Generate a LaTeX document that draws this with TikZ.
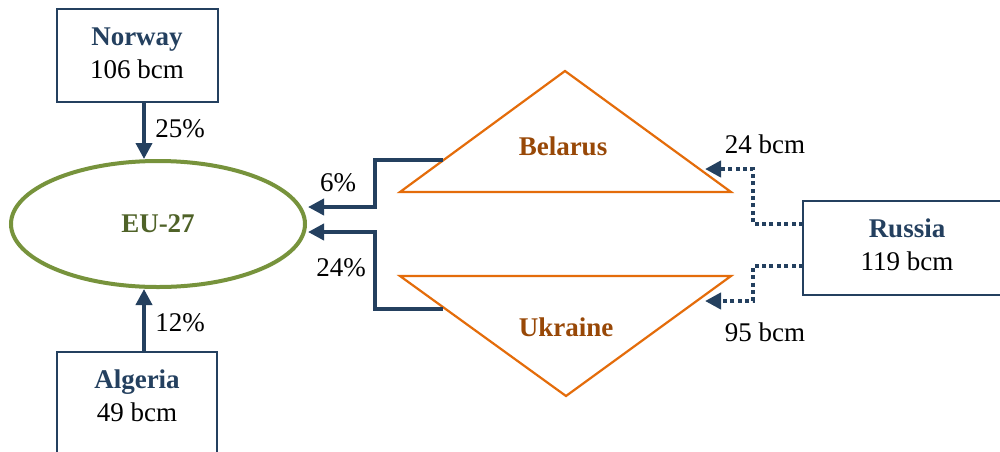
\documentclass[tikz,border=0pt]{standalone}
\usepackage{fontspec}
\setmainfont{Liberation Serif}
\usetikzlibrary{arrows.meta,shapes.geometric}
\definecolor{navy}{HTML}{24405F}
\definecolor{leaf}{HTML}{77933C}
\definecolor{olive}{HTML}{4F6228}
\definecolor{tang}{HTML}{E46C0A}
\definecolor{rust}{HTML}{984807}
\tikzset{
  box/.style={draw=navy, line width=1pt, fill=white, inner sep=0pt},
  lbl/.style={font=\fontsize{13.5}{16.5}\selectfont, text=black, inner sep=0pt},
  boxtext/.style={font=\fontsize{13.5}{16.5}\selectfont, align=center, inner sep=0pt},
  arr/.style={draw=navy, line width=1.9pt, -{Triangle[length=8pt,width=8pt]}},
  dotarr/.style={draw=navy, line width=2.1pt, dash pattern=on 2pt off 1.7pt, -{Triangle[length=8pt,width=8pt]}},
  tri/.style={draw=tang, line width=1.1pt},
  trilabel/.style={font=\fontsize{13.5}{16.5}\selectfont\bfseries, text=rust, inner sep=0pt}
}
\begin{document}
\begin{tikzpicture}[x=0.5pt,y=-0.5pt]
\clip (0,0) rectangle (1000,451);
\fill[white] (0,0) rectangle (1000,451);
% boxes
\node[box, minimum width=80.5pt, minimum height=46.5pt] (norway) at (137,55.5) {};
\node[boxtext] (norwaytext) at (137,53.5) {\textcolor{navy}{\bfseries Norway}\\106 bcm};
\node[box, minimum width=80pt, minimum height=52pt] (algeria) at (137,404) {};
\node[boxtext] (algeriatext) at (137,396) {\textcolor{navy}{\bfseries Algeria}\\49 bcm};
\node[box, minimum width=104pt, minimum height=47pt] (russia) at (907,248) {};
\node[boxtext] (russiatext) at (907,245) {\textcolor{navy}{\bfseries Russia}\\119 bcm};
% EU ellipse
\node[ellipse, draw=leaf, line width=2pt, minimum width=147pt, minimum height=63pt, inner sep=0pt,
      font=\fontsize{13.5}{16.5}\selectfont\bfseries, text=olive] (eu) at (158,224) {EU-27};
% triangles
\coordinate (bA) at (400,192);
\coordinate (bB) at (731,192);
\coordinate (bC) at (565,71);
\draw[tri] (bA) -- (bB) -- (bC) -- cycle;
\node[trilabel] (belarus) at (563,146) {Belarus};
\coordinate (uA) at (400,276);
\coordinate (uB) at (731,276);
\coordinate (uC) at (566,396);
\draw[tri] (uA) -- (uB) -- (uC) -- cycle;
\node[trilabel] (ukraine) at (566,327) {Ukraine};
% connector end points
\coordinate (bout) at (443,160);
\coordinate (uout) at (443,309);
\coordinate (eusix) at (308,207);
\coordinate (eutf) at (308,232);
\coordinate (rone) at (803,224);
\coordinate (rtwo) at (803,266);
\coordinate (bin) at (705,169);
\coordinate (uin) at (705,301);
% solid arrows
\draw[arr] ([xshift=3.5pt]norway.south) -- ([xshift=3.5pt]norway.south |- eu.north);
\draw[arr] ([xshift=3.5pt]algeria.north) -- ([xshift=3.5pt]algeria.north |- eu.south);
\draw[arr] (bout) -- ++(-68,0) |- (eusix);
\draw[arr] (uout) -- ++(-68,0) |- (eutf);
% dotted arrows
\draw[dotarr] (rone) -- ++(-50,0) |- (bin);
\draw[dotarr] (rtwo) -- ++(-50,0) |- (uin);
% labels
\node[lbl] (l25) at (180,129) {25\%};
\node[lbl] (l12) at (180,323) {12\%};
\node[lbl] (l6) at (338,183) {6\%};
\node[lbl] (l24) at (341,268) {24\%};
\node[lbl] (l24b) at (765,144) {24 bcm};
\node[lbl] (l95) at (765,332) {95 bcm};
\end{tikzpicture}
\end{document}
